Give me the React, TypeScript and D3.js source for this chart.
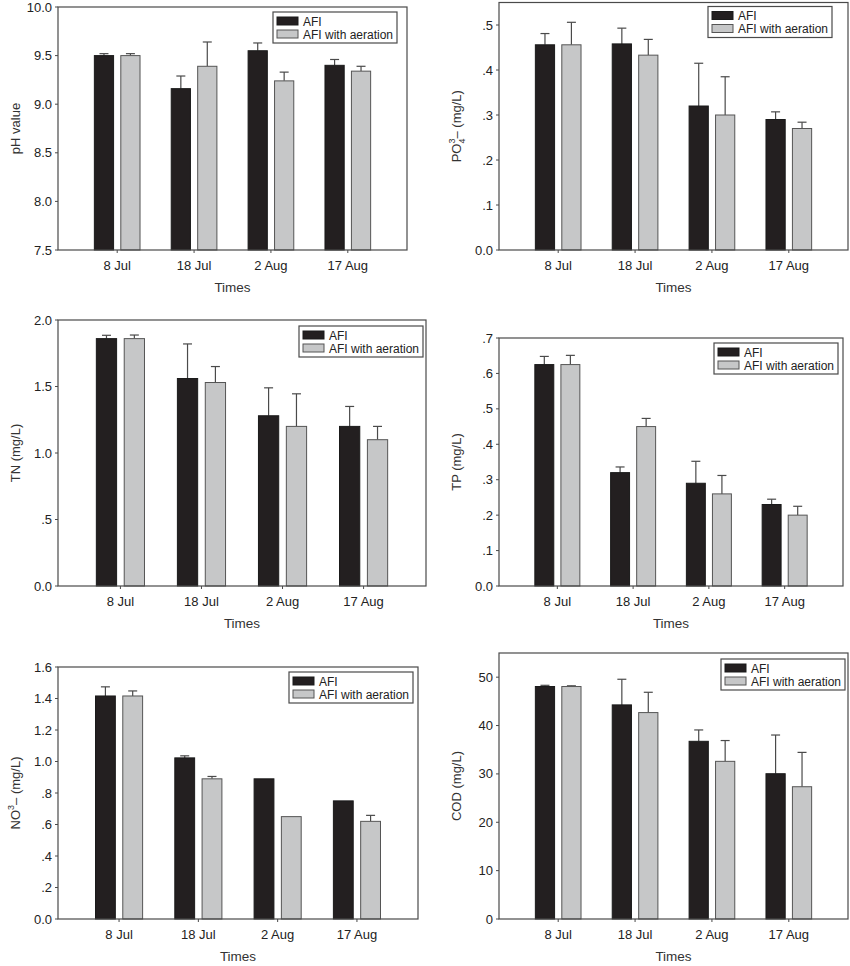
import * as d3 from "d3";

const categories = ["8 Jul", "18 Jul", "2 Aug", "17 Aug"];
const seriesNames = ["AFI", "AFI with aeration"];

// pH
const phAfi = [9.5, 9.16, 9.55, 9.4];
const phAfiErr = [0.02, 0.13, 0.08, 0.06];
const phAer = [9.5, 9.39, 9.24, 9.34];
const phAerErr = [0.02, 0.25, 0.09, 0.05];
const phTicks = [7.5, 8.0, 8.5, 9.0, 9.5, 10.0];
const phTickLabels = ["7.5", "8.0", "8.5", "9.0", "9.5", "10.0"];

// PO4
const poAfi = [0.456, 0.458, 0.32, 0.29];
const poAfiErr = [0.025, 0.035, 0.095, 0.017];
const poAer = [0.456, 0.433, 0.3, 0.27];
const poAerErr = [0.05, 0.035, 0.085, 0.014];
const poTicks = [0, 0.1, 0.2, 0.3, 0.4, 0.5];
const poTickLabels = ["0.0", ".1", ".2", ".3", ".4", ".5"];

// TN
const tnAfi = [1.86, 1.56, 1.28, 1.2];
const tnAfiErr = [0.025, 0.26, 0.21, 0.15];
const tnAer = [1.86, 1.53, 1.2, 1.1];
const tnAerErr = [0.027, 0.12, 0.245, 0.1];
const tnTicks = [0, 0.5, 1.0, 1.5, 2.0];
const tnTickLabels = ["0.0", ".5", "1.0", "1.5", "2.0"];

// TP
const tpAfi = [0.625, 0.32, 0.29, 0.23];
const tpAfiErr = [0.023, 0.016, 0.062, 0.015];
const tpAer = [0.625, 0.45, 0.26, 0.2];
const tpAerErr = [0.026, 0.023, 0.052, 0.025];
const tpTicks = [0, 0.1, 0.2, 0.3, 0.4, 0.5, 0.6, 0.7];
const tpTickLabels = ["0.0", ".1", ".2", ".3", ".4", ".5", ".6", ".7"];

// NO3
const noAfi = [1.416, 1.023, 0.89, 0.75];
const noAfiErr = [0.058, 0.013, 0, 0];
const noAer = [1.416, 0.89, 0.65, 0.62];
const noAerErr = [0.032, 0.015, 0, 0.038];
const noTicks = [0, 0.2, 0.4, 0.6, 0.8, 1.0, 1.2, 1.4, 1.6];
const noTickLabels = ["0.0", ".2", ".4", ".6", ".8", "1.0", "1.2", "1.4", "1.6"];

// COD
const codAfi = [48.07, 44.27, 36.74, 30.04];
const codAfiErr = [0.25, 5.3, 2.35, 8.0];
const codAer = [48.07, 42.68, 32.6, 27.35];
const codAerErr = [0.15, 4.2, 4.3, 7.1];
const codTicks = [0, 10, 20, 30, 40, 50];
const codTickLabels = ["0", "10", "20", "30", "40", "50"];

const FONT = "'Liberation Sans', Arial, sans-serif";
const BLACK = "#231f20";
const GREY = "#c6c7c8";
const LINE = "#4a4a4a";

interface PanelProps {
  box: { left: number; right: number; top: number; bottom: number };
  domain: [number, number];
  afi: number[];
  afiErr: number[];
  aer: number[];
  aerErr: number[];
  ticks: number[];
  tickLabels: string[];
  title: React.ReactNode;
  legend: { dx: number; dy: number };
}

function Panel({ box, domain, afi, afiErr, aer, aerErr, ticks, tickLabels, title, legend }: PanelProps) {
  const x = d3
    .scalePoint<string>()
    .domain(categories)
    .range([box.left, box.right])
    .padding(0.77);
  const y = d3.scaleLinear().domain(domain).range([box.bottom, box.top]);
  const step = x.step();
  const barW = step * 0.25;
  const off = step * 0.172;
  const base = y(domain[0]);

  const series = [
    { vals: afi, errs: afiErr, fill: BLACK, stroke: "#1a1a1a", shift: -off },
    { vals: aer, errs: aerErr, fill: GREY, stroke: "#555", shift: off },
  ];

  // legend box, anchored to the top-right corner of the frame
  const lgW = 124;
  const lgH = 31;
  const lgX = box.right - legend.dx - lgW;
  const lgY = box.top + legend.dy;
  const midY = (box.top + box.bottom) / 2;

  return (
    <g fontFamily={FONT}>
      {series.map((s, si) =>
        categories.map((c, i) => {
          const cx = (x(c) ?? 0) + s.shift;
          const top = y(s.vals[i]);
          const errTop = y(s.vals[i] + s.errs[i]);
          return (
            <g key={`${si}-${i}`}>
              {s.errs[i] > 0 && (
                <g stroke={LINE} strokeWidth={1.2}>
                  <line x1={cx} x2={cx} y1={top} y2={errTop} />
                  <line x1={cx - 4.5} x2={cx + 4.5} y1={errTop} y2={errTop} />
                </g>
              )}
              <rect
                x={cx - barW / 2}
                y={top}
                width={barW}
                height={base - top}
                fill={s.fill}
                stroke={s.stroke}
                strokeWidth={1}
              />
            </g>
          );
        })
      )}
      <rect
        x={box.left}
        y={box.top}
        width={box.right - box.left}
        height={box.bottom - box.top}
        fill="none"
        stroke={LINE}
        strokeWidth={1.2}
      />
      {ticks.map((t, i) => (
        <g key={t}>
          <line x1={box.left - 3} x2={box.left} y1={y(t)} y2={y(t)} stroke={LINE} />
          <text
            x={box.left - 6}
            y={y(t)}
            dy="0.35em"
            textAnchor="end"
            fontSize={13}
            fill="#222"
          >
            {tickLabels[i]}
          </text>
        </g>
      ))}
      {categories.map((c) => (
        <g key={c}>
          <line x1={x(c)} x2={x(c)} y1={box.bottom} y2={box.bottom + 3} stroke={LINE} />
          <text x={x(c)} y={box.bottom + 20} textAnchor="middle" fontSize={13} fill="#222">
            {c}
          </text>
        </g>
      ))}
      <text
        x={(box.left + box.right) / 2}
        y={box.bottom + 42}
        textAnchor="middle"
        fontSize={13.5}
        fill="#333"
      >
        Times
      </text>
      <text
        transform={`translate(${box.left - 38},${midY}) rotate(-90)`}
        textAnchor="middle"
        fontSize={13}
        fill="#333"
      >
        {title}
      </text>
      <g>
        <rect x={lgX} y={lgY} width={lgW} height={lgH} fill="#fff" stroke={LINE} strokeWidth={1.2} />
        {seriesNames.map((n, i) => (
          <g key={n}>
            <rect
              x={lgX + 4}
              y={lgY + 5 + i * 13}
              width={21}
              height={8}
              fill={i === 0 ? BLACK : GREY}
              stroke={i === 0 ? "#1a1a1a" : "#555"}
            />
            <text x={lgX + 30} y={lgY + 13.5 + i * 13} fontSize={12} fill="#222">
              {n}
            </text>
          </g>
        ))}
      </g>
    </g>
  );
}

export default function App() {
  return (
    <svg
      width={850}
      height={966}
      style={{ position: "absolute", left: 0, top: 0, background: "#fff" }}
    >
      <Panel
        box={{ left: 58, right: 407, top: 7, bottom: 250 }}
        domain={[7.5, 10]}
        afi={phAfi}
        afiErr={phAfiErr}
        aer={phAer}
        aerErr={phAerErr}
        ticks={phTicks}
        tickLabels={phTickLabels}
        title="pH  value"
        legend={{ dx: 10, dy: 5 }}
      />
      <Panel
        box={{ left: 499, right: 848, top: 2.5, bottom: 250 }}
        domain={[0, 0.55]}
        afi={poAfi}
        afiErr={poAfiErr}
        aer={poAer}
        aerErr={poAerErr}
        ticks={poTicks}
        tickLabels={poTickLabels}
        title={
          <>
            PO<tspan fontSize={9} dy={4}>4</tspan>
            <tspan fontSize={9} dx={-5} dy={-10}>3</tspan>
            <tspan dy={6}>– (mg/L)</tspan>
          </>
        }
        legend={{ dx: 16, dy: 4 }}
      />
      <Panel
        box={{ left: 58, right: 426, top: 320, bottom: 586 }}
        domain={[0, 2]}
        afi={tnAfi}
        afiErr={tnAfiErr}
        aer={tnAer}
        aerErr={tnAerErr}
        ticks={tnTicks}
        tickLabels={tnTickLabels}
        title="TN (mg/L)"
        legend={{ dx: 3, dy: 6 }}
      />
      <Panel
        box={{ left: 499, right: 843, top: 338, bottom: 586 }}
        domain={[0, 0.7]}
        afi={tpAfi}
        afiErr={tpAfiErr}
        aer={tpAer}
        aerErr={tpAerErr}
        ticks={tpTicks}
        tickLabels={tpTickLabels}
        title="TP (mg/L)"
        legend={{ dx: 5, dy: 5 }}
      />
      <Panel
        box={{ left: 58, right: 418, top: 667, bottom: 919 }}
        domain={[0, 1.6]}
        afi={noAfi}
        afiErr={noAfiErr}
        aer={noAer}
        aerErr={noAerErr}
        ticks={noTicks}
        tickLabels={noTickLabels}
        title={
          <>
            NO<tspan fontSize={9} dy={-6}>3</tspan>
            <tspan dy={6}>– (mg/L)</tspan>
          </>
        }
        legend={{ dx: 5, dy: 5 }}
      />
      <Panel
        box={{ left: 499, right: 848, top: 653, bottom: 919 }}
        domain={[0, 55]}
        afi={codAfi}
        afiErr={codAfiErr}
        aer={codAer}
        aerErr={codAerErr}
        ticks={codTicks}
        tickLabels={codTickLabels}
        title="COD (mg/L)"
        legend={{ dx: 3, dy: 6 }}
      />
    </svg>
  );
}
